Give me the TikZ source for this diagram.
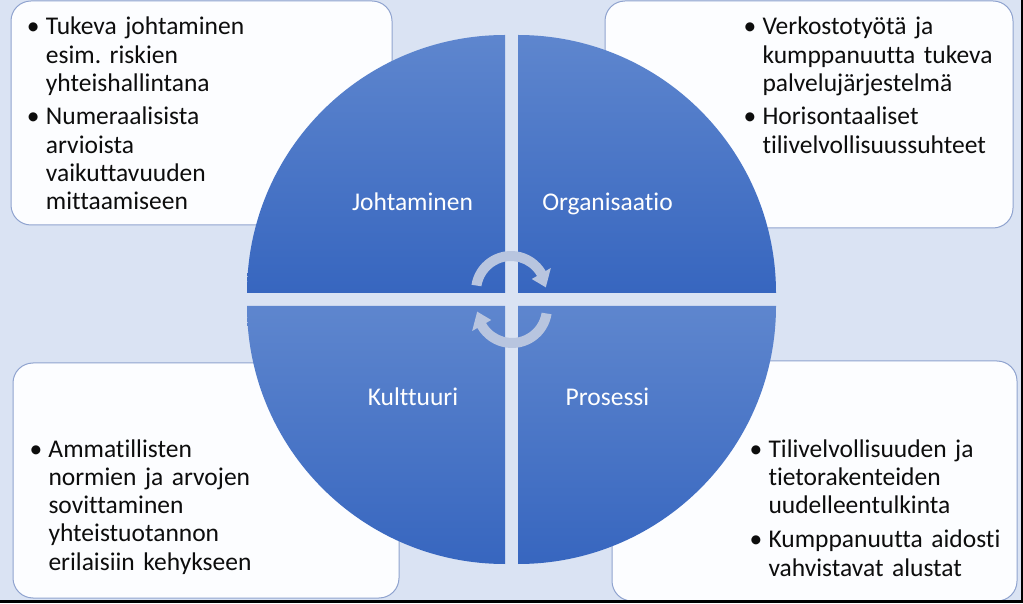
\documentclass[tikz,border=0pt]{standalone}
\usepackage{fontspec}
\setmainfont{Carlito}[Ligatures=NoCommon]
\usetikzlibrary{calc}
\definecolor{bg}{HTML}{DAE3F3}
\definecolor{boxfill}{HTML}{FCFDFF}
\definecolor{boxline}{HTML}{8FA3CF}
\definecolor{qtop}{HTML}{5E86CE}
\definecolor{qbot}{HTML}{3766BF}
\definecolor{arrowc}{HTML}{B8C5DF}
\definecolor{txt}{HTML}{0D0D0D}
\newcommand\bul{\leavevmode\llap{\makebox[19pt][l]{\textbullet}}}
\frenchspacing
\begin{document}
\begin{tikzpicture}[x=1pt,y=1pt,
 infobox/.style={draw=boxline, line width=1pt, fill=boxfill, rounded corners=20pt, inner sep=0pt},
 quad/.style={top color=qtop, bottom color=qbot, draw=none},
 cyc/.style={fill=arrowc, draw=none},
 qlabel/.style={text=white, font=\fontsize{25.5pt}{28pt}\selectfont, anchor=base, inner sep=0pt},
 bitem/.style={text=txt, font=\fontsize{25.5pt}{28.3pt}\selectfont, anchor=base west, inner sep=0pt, text width=260pt, align=left},
]
\useasboundingbox (0,0) rectangle (1023,603);
\fill[bg] (0,0) rectangle (1023,603);

% boxes
\node[infobox, minimum width=381pt, minimum height=224pt] (boxTL) at (201.5,490) {};
\node[infobox, minimum width=408pt, minimum height=227pt] (boxTR) at (809,488.5) {};
\node[infobox, minimum width=386pt, minimum height=235pt] (boxBL) at (206,122.5) {};
\node[infobox, minimum width=405pt, minimum height=240pt] (boxBR) at (814.5,122) {};

% quadrants
\shade[quad] (505,310) -- (247,310) arc[start angle=180, end angle=90, radius=258] -- cycle;
\shade[quad] (518,310) -- (518,568) arc[start angle=90, end angle=0, radius=258] -- cycle;
\shade[quad] (505,297) -- (505,39) arc[start angle=270, end angle=180, radius=258] -- cycle;
\shade[quad] (518,297) -- (776,297) arc[start angle=0, end angle=-90, radius=258] -- cycle;

% cycle arrows
\coordinate (C1) at (511,312);
\coordinate (C2) at (512,295);
\fill[cyc] ($(C1)+(171:40)$) arc[start angle=171, end angle=30, radius=40]
  -- ($(C1)+(30:46)$) -- ($(C1)+(6:35)$) -- ($(C1)+(30:24)$) -- ($(C1)+(30:30)$)
  arc[start angle=30, end angle=171, radius=30] -- cycle;
\fill[cyc] ($(C2)+(351:40)$) arc[start angle=351, end angle=210, radius=40]
  -- ($(C2)+(210:46)$) -- ($(C2)+(186:35)$) -- ($(C2)+(210:24)$) -- ($(C2)+(210:30)$)
  arc[start angle=210, end angle=351, radius=30] -- cycle;

% quadrant labels
\node[qlabel] (lJ) at (412.5,392.3) {Johtaminen};
\node[qlabel] (lO) at (607.5,392.3) {Organisaatio};
\node[qlabel] (lK) at (413,197.3) {Kulttuuri};
\node[qlabel] (lP) at (607.5,197.3) {Prosessi};

% box texts
\node[bitem] (tl1) at (45.7,568) {\bul Tukeva johtaminen\\esim. riskien\\yhteishallintana};
\node[bitem] (tl2) at (45.7,478) {\bul Numeraalisista\\arvioista\\vaikuttavuuden\\mittaamiseen};
\node[bitem] (tr1) at (762.3,568) {\bul Verkostotyötä ja\\kumppanuutta tukeva\\palvelujärjestelmä};
\node[bitem] (tr2) at (762.3,478) {\bul Horisontaaliset\\tilivelvollisuussuhteet};
\node[bitem] (bl1) at (48.3,146) {\bul Ammatillisten\\normien ja arvojen\\sovittaminen\\yhteistuotannon\\erilaisiin kehykseen};
\node[bitem] (br1) at (768.3,146) {\bul Tilivelvollisuuden ja\\tietorakenteiden\\uudelleentulkinta};
\node[bitem] (br2) at (768.3,55.3) {\bul Kumppanuutta aidosti\\vahvistavat alustat};

% dark edges
\fill[black] (0,0) rectangle (1023,3);
\fill[black] (1021,0) rectangle (1023,603);
\end{tikzpicture}
\end{document}
